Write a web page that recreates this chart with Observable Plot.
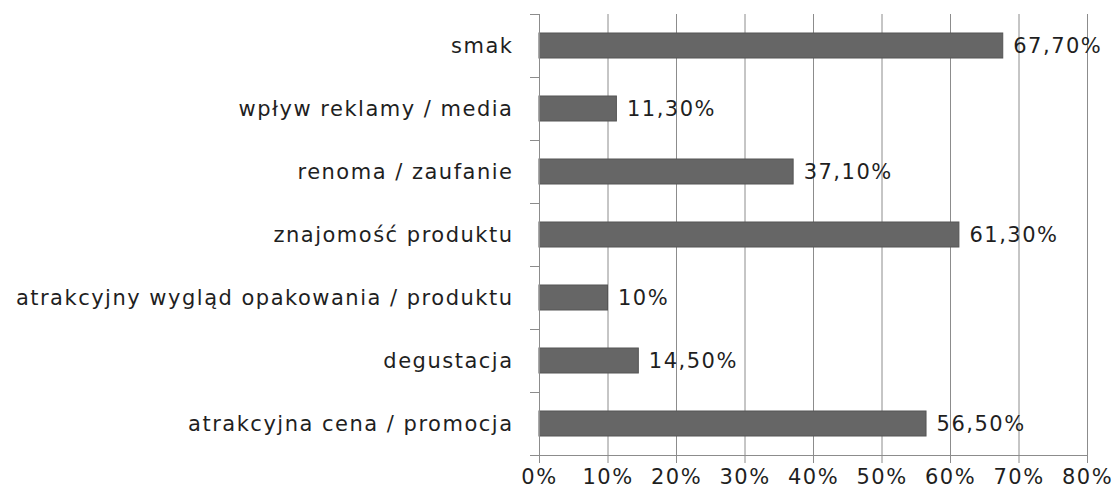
<!DOCTYPE html>
<html>
<head>
<meta charset="utf-8">
<script src="https://cdn.jsdelivr.net/npm/d3@7"></script>
<script src="https://cdn.jsdelivr.net/npm/@observablehq/plot@0.6"></script>
<style>
  html, body { margin: 0; padding: 0; background: #fff; }
  #chart svg { display: block; }
  #chart svg text { letter-spacing: 1.5px; }
</style>
</head>
<body>
<div id="chart"></div>
<script>
const categories = [
  "smak",
  "wpływ reklamy / media",
  "renoma / zaufanie",
  "znajomość produktu",
  "atrakcyjny wygląd opakowania / produktu",
  "degustacja",
  "atrakcyjna cena / promocja"
];
const values = [67.7, 11.3, 37.1, 61.3, 10, 14.5, 56.5];
const valueLabels = ["67,70%", "11,30%", "37,10%", "61,30%", "10%", "14,50%", "56,50%"];
const xTicks = [0, 10, 20, 30, 40, 50, 60, 70, 80];

const data = categories.map((c, i) => ({cat: c, val: values[i], label: valueLabels[i]}));
const FONT = "DejaVu Sans, Verdana, sans-serif";

const boundaryTicks = (index, scales, vals, dims) => {
  const y = scales.y;
  const off = (y.step() - y.bandwidth()) / 2;
  const g = d3.create("svg:g").attr("stroke", "#8c8c8c").attr("stroke-width", 1);
  const ys = categories.map(c => y(c) - off);
  ys.push(y(categories[categories.length - 1]) + y.bandwidth() + off);
  const x0 = dims.marginLeft;
  for (const yy of ys) {
    g.append("line").attr("x1", x0 - 9).attr("x2", x0).attr("y1", Math.round(yy) + 0.5).attr("y2", Math.round(yy) + 0.5);
  }
  return g.node();
};

const plot = Plot.plot({
  width: 1113,
  height: 492,
  marginLeft: 539,
  marginRight: 26,
  marginTop: 14,
  marginBottom: 37,
  style: {fontFamily: FONT, fontSize: "21px", color: "#1f1f1f", background: "#fff"},
  x: {domain: [0, 80], ticks: xTicks, tickFormat: d => d + "%"},
  y: {domain: categories, paddingInner: 0.6, paddingOuter: 0.3},
  marks: [
    Plot.gridX(xTicks.slice(1), {stroke: "#8c8c8c", strokeOpacity: 1}),
    Plot.barX(data, {y: "cat", x: "val", fill: "#666666", stroke: "#555555", strokeWidth: 1}),
    Plot.text(data, {y: "cat", x: "val", text: "label", textAnchor: "start", dx: 10, fontSize: 21, fill: "#1f1f1f"}),
    Plot.ruleX([0], {stroke: "#8c8c8c"}),
    Plot.frame({anchor: "bottom", stroke: "#8c8c8c"}),
    Plot.axisX({ticks: xTicks, tickFormat: d => d + "%", tickSize: 8, tickPadding: 6, stroke: "#8c8c8c", fill: "#1f1f1f", fontSize: 21, label: null}),
    Plot.axisY({tickSize: 0, tickPadding: 26, fontSize: 21, fill: "#1f1f1f", label: null}),
    boundaryTicks
  ]
});
document.getElementById("chart").appendChild(plot);
</script>
</body>
</html>
